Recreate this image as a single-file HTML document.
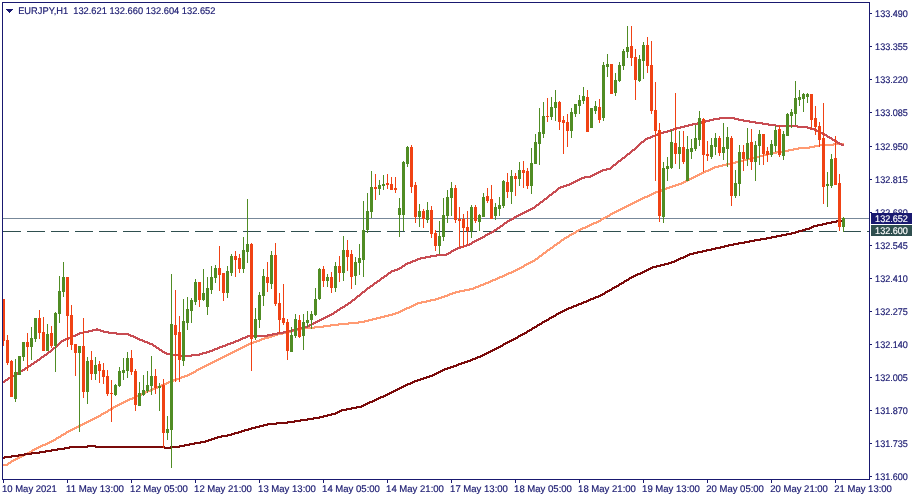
<!DOCTYPE html><html><head><meta charset="utf-8"><title>EURJPY,H1</title><style>
html,body{margin:0;padding:0;background:#fff}
#c{position:relative;width:915px;height:500px;overflow:hidden;background:#fff}
</style></head><body><div id="c">
<svg width="915" height="500" viewBox="0 0 915 500" shape-rendering="crispEdges" style="position:absolute;left:0;top:0">
<rect x="2" y="2" width="868" height="1" fill="#191970"/>
<rect x="2" y="2" width="1" height="478" fill="#191970"/>
<rect x="869" y="2" width="1" height="478" fill="#191970"/>
<rect x="2" y="479" width="868" height="1" fill="#191970"/>
<rect x="3" y="218" width="866" height="1" fill="#778899"/>
<rect x="3" y="231" width="18" height="1" fill="#2f4f4f"/>
<rect x="27" y="231" width="18" height="1" fill="#2f4f4f"/>
<rect x="51" y="231" width="18" height="1" fill="#2f4f4f"/>
<rect x="75" y="231" width="18" height="1" fill="#2f4f4f"/>
<rect x="99" y="231" width="18" height="1" fill="#2f4f4f"/>
<rect x="123" y="231" width="18" height="1" fill="#2f4f4f"/>
<rect x="147" y="231" width="18" height="1" fill="#2f4f4f"/>
<rect x="171" y="231" width="18" height="1" fill="#2f4f4f"/>
<rect x="195" y="231" width="18" height="1" fill="#2f4f4f"/>
<rect x="219" y="231" width="18" height="1" fill="#2f4f4f"/>
<rect x="243" y="231" width="18" height="1" fill="#2f4f4f"/>
<rect x="267" y="231" width="18" height="1" fill="#2f4f4f"/>
<rect x="291" y="231" width="18" height="1" fill="#2f4f4f"/>
<rect x="315" y="231" width="18" height="1" fill="#2f4f4f"/>
<rect x="339" y="231" width="18" height="1" fill="#2f4f4f"/>
<rect x="363" y="231" width="18" height="1" fill="#2f4f4f"/>
<rect x="387" y="231" width="18" height="1" fill="#2f4f4f"/>
<rect x="411" y="231" width="18" height="1" fill="#2f4f4f"/>
<rect x="435" y="231" width="18" height="1" fill="#2f4f4f"/>
<rect x="459" y="231" width="18" height="1" fill="#2f4f4f"/>
<rect x="483" y="231" width="18" height="1" fill="#2f4f4f"/>
<rect x="507" y="231" width="18" height="1" fill="#2f4f4f"/>
<rect x="531" y="231" width="18" height="1" fill="#2f4f4f"/>
<rect x="555" y="231" width="18" height="1" fill="#2f4f4f"/>
<rect x="579" y="231" width="18" height="1" fill="#2f4f4f"/>
<rect x="603" y="231" width="18" height="1" fill="#2f4f4f"/>
<rect x="627" y="231" width="18" height="1" fill="#2f4f4f"/>
<rect x="651" y="231" width="18" height="1" fill="#2f4f4f"/>
<rect x="675" y="231" width="18" height="1" fill="#2f4f4f"/>
<rect x="699" y="231" width="18" height="1" fill="#2f4f4f"/>
<rect x="723" y="231" width="18" height="1" fill="#2f4f4f"/>
<rect x="747" y="231" width="18" height="1" fill="#2f4f4f"/>
<rect x="771" y="231" width="18" height="1" fill="#2f4f4f"/>
<rect x="795" y="231" width="18" height="1" fill="#2f4f4f"/>
<rect x="819" y="231" width="18" height="1" fill="#2f4f4f"/>
<rect x="843" y="231" width="18" height="1" fill="#2f4f4f"/>
<rect x="867" y="231" width="2" height="1" fill="#2f4f4f"/>
<defs><clipPath id="cp"><rect x="3" y="3" width="866" height="476"/></clipPath></defs>
<g clip-path="url(#cp)">
<path d="M2 464h5v2h-5zM7 463h1v3h-1zM8 462h1v3h-1zM9 462h1v2h-1zM10 461h1v3h-1zM11 460h1v3h-1zM12 460h1v2h-1zM13 459h1v3h-1zM14 459h1v2h-1zM15 458h1v3h-1zM16 458h1v2h-1zM17 457h1v3h-1zM18 457h1v2h-1zM19 456h1v3h-1zM20 456h1v2h-1zM21 455h1v3h-1zM22 455h1v2h-1zM23 454h1v3h-1zM24 454h1v2h-1zM25 453h1v3h-1zM26 453h1v2h-1zM27 452h1v3h-1zM28 452h1v2h-1zM29 451h1v3h-1zM30 451h1v2h-1zM31 450h1v3h-1zM32 449h1v3h-1zM33 449h1v2h-1zM34 448h1v3h-1zM35 448h1v2h-1zM36 447h1v3h-1zM37 447h1v2h-1zM38 446h1v3h-1zM39 446h1v2h-1zM40 445h1v3h-1zM41 445h1v2h-1zM42 444h1v3h-1zM43 444h2v2h-2zM45 443h1v3h-1zM46 443h1v2h-1zM47 442h1v3h-1zM48 442h1v2h-1zM49 441h1v3h-1zM50 441h1v2h-1zM51 440h1v3h-1zM52 440h1v2h-1zM53 439h1v3h-1zM54 439h1v2h-1zM55 438h1v3h-1zM56 437h1v3h-1zM57 437h1v2h-1zM58 436h1v3h-1zM59 436h1v2h-1zM60 435h1v3h-1zM61 434h1v3h-1zM62 434h1v2h-1zM63 433h1v3h-1zM64 433h1v2h-1zM65 432h1v3h-1zM66 431h1v3h-1zM67 431h1v2h-1zM68 430h1v3h-1zM69 430h1v2h-1zM70 429h1v3h-1zM71 429h1v2h-1zM72 428h1v3h-1zM73 428h1v2h-1zM74 427h1v3h-1zM75 427h1v2h-1zM76 426h1v3h-1zM77 426h1v2h-1zM78 425h1v3h-1zM79 425h1v2h-1zM80 424h1v3h-1zM81 424h1v2h-1zM82 423h1v3h-1zM83 423h1v2h-1zM84 422h1v3h-1zM85 422h1v2h-1zM86 421h1v3h-1zM87 421h1v2h-1zM88 420h1v3h-1zM89 420h1v2h-1zM90 419h1v3h-1zM91 419h1v2h-1zM92 418h1v3h-1zM93 418h1v2h-1zM94 417h1v3h-1zM95 417h1v2h-1zM96 416h1v3h-1zM97 416h1v2h-1zM98 415h1v3h-1zM99 415h1v2h-1zM100 414h1v3h-1zM101 413h1v3h-1zM102 413h1v2h-1zM103 412h1v3h-1zM104 412h1v2h-1zM105 411h1v3h-1zM106 411h1v2h-1zM107 410h1v3h-1zM108 409h1v3h-1zM109 409h1v2h-1zM110 408h1v3h-1zM111 408h1v2h-1zM112 407h1v3h-1zM113 406h1v3h-1zM114 406h1v2h-1zM115 405h1v3h-1zM116 405h1v2h-1zM117 404h1v3h-1zM118 404h1v2h-1zM119 403h1v3h-1zM120 403h1v2h-1zM121 402h1v3h-1zM122 402h1v2h-1zM123 401h1v3h-1zM124 401h1v2h-1zM125 400h1v3h-1zM126 400h1v2h-1zM127 399h1v3h-1zM128 399h1v2h-1zM129 398h1v3h-1zM130 398h2v2h-2zM132 397h1v3h-1zM133 397h1v2h-1zM134 396h1v3h-1zM135 396h1v2h-1zM136 395h1v3h-1zM137 395h1v2h-1zM138 394h1v3h-1zM139 394h2v2h-2zM141 393h1v3h-1zM142 393h1v2h-1zM143 392h1v3h-1zM144 392h1v2h-1zM145 391h1v3h-1zM146 391h1v2h-1zM147 390h1v3h-1zM148 390h2v2h-2zM150 389h1v3h-1zM151 389h1v2h-1zM152 388h1v3h-1zM153 388h1v2h-1zM154 387h1v3h-1zM155 387h2v2h-2zM157 386h1v3h-1zM158 386h1v2h-1zM159 385h1v3h-1zM160 385h1v2h-1zM161 384h1v3h-1zM162 384h2v2h-2zM164 383h1v3h-1zM165 383h1v2h-1zM166 382h1v3h-1zM167 382h1v2h-1zM168 381h1v3h-1zM169 381h2v2h-2zM171 380h1v3h-1zM172 380h1v2h-1zM173 379h1v3h-1zM174 379h2v2h-2zM176 378h1v3h-1zM177 378h2v2h-2zM179 377h1v3h-1zM180 377h1v2h-1zM181 376h1v3h-1zM182 376h2v2h-2zM184 375h1v3h-1zM185 375h2v2h-2zM187 374h1v3h-1zM188 374h1v2h-1zM189 373h1v3h-1zM190 373h1v2h-1zM191 372h1v3h-1zM192 372h1v2h-1zM193 371h1v3h-1zM194 371h1v2h-1zM195 370h1v3h-1zM196 369h1v3h-1zM197 369h1v2h-1zM198 368h1v3h-1zM199 368h1v2h-1zM200 367h1v3h-1zM201 367h1v2h-1zM202 366h1v3h-1zM203 366h1v2h-1zM204 365h1v3h-1zM205 365h1v2h-1zM206 364h1v3h-1zM207 364h1v2h-1zM208 363h1v3h-1zM209 363h1v2h-1zM210 362h1v3h-1zM211 362h1v2h-1zM212 361h1v3h-1zM213 361h1v2h-1zM214 360h1v3h-1zM215 360h1v2h-1zM216 359h1v3h-1zM217 359h1v2h-1zM218 358h1v3h-1zM219 358h1v2h-1zM220 357h1v3h-1zM221 357h1v2h-1zM222 356h1v3h-1zM223 356h1v2h-1zM224 355h1v3h-1zM225 355h1v2h-1zM226 354h1v3h-1zM227 354h1v2h-1zM228 353h1v3h-1zM229 353h1v2h-1zM230 352h1v3h-1zM231 352h1v2h-1zM232 351h1v3h-1zM233 351h1v2h-1zM234 350h1v3h-1zM235 350h1v2h-1zM236 349h1v3h-1zM237 349h1v2h-1zM238 348h1v3h-1zM239 348h1v2h-1zM240 347h1v3h-1zM241 347h1v2h-1zM242 346h1v3h-1zM243 346h1v2h-1zM244 345h1v3h-1zM245 345h1v2h-1zM246 344h1v3h-1zM247 344h1v2h-1zM248 343h1v3h-1zM249 343h1v2h-1zM250 342h1v3h-1zM251 342h2v2h-2zM253 341h1v3h-1zM254 341h2v2h-2zM256 340h1v3h-1zM257 340h2v2h-2zM259 339h1v3h-1zM260 339h1v2h-1zM261 338h1v3h-1zM262 338h2v2h-2zM264 337h1v3h-1zM265 337h3v2h-3zM268 336h1v3h-1zM269 336h2v2h-2zM271 335h1v3h-1zM272 335h2v2h-2zM274 334h1v3h-1zM275 334h2v2h-2zM277 333h1v3h-1zM278 333h4v2h-4zM282 332h1v3h-1zM283 332h3v2h-3zM286 331h1v3h-1zM287 331h4v2h-4zM291 330h1v3h-1zM292 330h2v2h-2zM294 329h1v3h-1zM295 329h2v2h-2zM297 328h1v3h-1zM298 328h6v2h-6zM304 327h1v3h-1zM305 327h9v2h-9zM314 326h1v3h-1zM315 326h8v2h-8zM323 325h1v3h-1zM324 325h6v2h-6zM330 324h1v3h-1zM331 324h7v2h-7zM338 323h1v3h-1zM339 323h9v2h-9zM348 322h1v3h-1zM349 322h9v2h-9zM358 321h1v3h-1zM359 321h5v2h-5zM364 320h1v3h-1zM365 320h3v2h-3zM368 319h1v3h-1zM369 319h3v2h-3zM372 318h1v3h-1zM373 318h3v2h-3zM376 317h1v3h-1zM377 317h3v2h-3zM380 316h1v3h-1zM381 316h3v2h-3zM384 315h1v3h-1zM385 315h3v2h-3zM388 314h1v3h-1zM389 314h3v2h-3zM392 313h1v3h-1zM393 313h2v2h-2zM395 312h1v3h-1zM396 312h2v2h-2zM398 311h1v3h-1zM399 311h1v2h-1zM400 310h1v3h-1zM401 310h1v2h-1zM402 309h1v3h-1zM403 309h1v2h-1zM404 308h1v3h-1zM405 308h1v2h-1zM406 307h1v3h-1zM407 307h2v2h-2zM409 306h1v3h-1zM410 306h1v2h-1zM411 305h1v3h-1zM412 305h1v2h-1zM413 304h1v3h-1zM414 304h1v2h-1zM415 303h1v3h-1zM416 303h1v2h-1zM417 302h1v3h-1zM418 302h3v2h-3zM421 301h1v3h-1zM422 301h4v2h-4zM426 300h1v3h-1zM427 300h3v2h-3zM430 299h1v3h-1zM431 299h4v2h-4zM435 298h1v3h-1zM436 298h2v2h-2zM438 297h1v3h-1zM439 297h2v2h-2zM441 296h1v3h-1zM442 296h2v2h-2zM444 295h1v3h-1zM445 295h2v2h-2zM447 294h1v3h-1zM448 294h1v2h-1zM449 293h1v3h-1zM450 293h2v2h-2zM452 292h1v3h-1zM453 292h2v2h-2zM455 291h1v3h-1zM456 291h3v2h-3zM459 290h1v3h-1zM460 290h4v2h-4zM464 289h1v3h-1zM465 289h4v2h-4zM469 288h1v3h-1zM470 288h3v2h-3zM473 287h1v3h-1zM474 287h1v2h-1zM475 286h1v3h-1zM476 286h2v2h-2zM478 285h1v3h-1zM479 285h1v2h-1zM480 284h1v3h-1zM481 284h2v2h-2zM483 283h1v3h-1zM484 283h1v2h-1zM485 282h1v3h-1zM486 282h2v2h-2zM488 281h1v3h-1zM489 281h1v2h-1zM490 280h1v3h-1zM491 280h1v2h-1zM492 279h1v3h-1zM493 279h2v2h-2zM495 278h1v3h-1zM496 278h1v2h-1zM497 277h1v3h-1zM498 277h1v2h-1zM499 276h1v3h-1zM500 276h2v2h-2zM502 275h1v3h-1zM503 275h1v2h-1zM504 274h1v3h-1zM505 274h1v2h-1zM506 273h1v3h-1zM507 273h1v2h-1zM508 272h1v3h-1zM509 272h2v2h-2zM511 271h1v3h-1zM512 271h1v2h-1zM513 270h1v3h-1zM514 270h1v2h-1zM515 269h1v3h-1zM516 269h1v2h-1zM517 268h1v3h-1zM518 268h1v2h-1zM519 267h1v3h-1zM520 267h1v2h-1zM521 266h1v3h-1zM522 266h1v2h-1zM523 265h1v3h-1zM524 264h1v3h-1zM525 264h1v2h-1zM526 263h1v3h-1zM527 263h1v2h-1zM528 262h1v3h-1zM529 262h1v2h-1zM530 261h1v3h-1zM531 261h1v2h-1zM532 260h1v3h-1zM533 260h1v2h-1zM534 259h1v3h-1zM535 258h1v3h-1zM536 258h1v2h-1zM537 257h1v3h-1zM538 256h1v3h-1zM539 255h1v3h-1zM540 255h1v2h-1zM541 254h1v3h-1zM542 253h1v3h-1zM543 252h1v3h-1zM544 252h1v2h-1zM545 251h1v3h-1zM546 250h1v3h-1zM547 249h1v3h-1zM548 249h1v2h-1zM549 248h1v3h-1zM550 247h1v3h-1zM551 247h1v2h-1zM552 246h1v3h-1zM553 245h1v3h-1zM554 244h1v3h-1zM555 244h1v2h-1zM556 243h1v3h-1zM557 242h1v3h-1zM558 242h1v2h-1zM559 241h1v3h-1zM560 240h1v3h-1zM561 239h1v3h-1zM562 239h1v2h-1zM563 238h1v3h-1zM564 237h1v3h-1zM565 237h1v2h-1zM566 236h1v3h-1zM567 236h1v2h-1zM568 235h1v3h-1zM569 234h1v3h-1zM570 234h1v2h-1zM571 233h1v3h-1zM572 233h1v2h-1zM573 232h1v3h-1zM574 232h1v2h-1zM575 231h1v3h-1zM576 230h1v3h-1zM577 230h1v2h-1zM578 229h1v3h-1zM579 229h1v2h-1zM580 228h1v3h-1zM581 228h1v2h-1zM582 227h1v3h-1zM583 227h2v2h-2zM585 226h1v3h-1zM586 226h1v2h-1zM587 225h1v3h-1zM588 225h1v2h-1zM589 224h1v3h-1zM590 224h1v2h-1zM591 223h1v3h-1zM592 223h1v2h-1zM593 222h1v3h-1zM594 222h2v2h-2zM596 221h1v3h-1zM597 221h1v2h-1zM598 220h1v3h-1zM599 220h1v2h-1zM600 219h1v3h-1zM601 218h1v3h-1zM602 218h1v2h-1zM603 217h1v3h-1zM604 217h1v2h-1zM605 216h1v3h-1zM606 216h1v2h-1zM607 215h1v3h-1zM608 215h1v2h-1zM609 214h1v3h-1zM610 213h1v3h-1zM611 213h1v2h-1zM612 212h1v3h-1zM613 212h1v2h-1zM614 211h1v3h-1zM615 211h1v2h-1zM616 210h1v3h-1zM617 210h1v2h-1zM618 209h1v3h-1zM619 209h1v2h-1zM620 208h1v3h-1zM621 208h1v2h-1zM622 207h1v3h-1zM623 207h1v2h-1zM624 206h1v3h-1zM625 206h1v2h-1zM626 205h1v3h-1zM627 205h1v2h-1zM628 204h1v3h-1zM629 204h1v2h-1zM630 203h1v3h-1zM631 203h1v2h-1zM632 202h1v3h-1zM633 202h1v2h-1zM634 201h1v3h-1zM635 201h1v2h-1zM636 200h1v3h-1zM637 200h1v2h-1zM638 199h1v3h-1zM639 199h1v2h-1zM640 198h1v3h-1zM641 198h1v2h-1zM642 197h1v3h-1zM643 197h1v2h-1zM644 196h1v3h-1zM645 196h2v2h-2zM647 195h1v3h-1zM648 195h1v2h-1zM649 194h1v3h-1zM650 194h1v2h-1zM651 193h1v3h-1zM652 193h1v2h-1zM653 192h1v3h-1zM654 192h1v2h-1zM655 191h1v3h-1zM656 191h2v2h-2zM658 190h1v3h-1zM659 190h2v2h-2zM661 189h1v3h-1zM662 189h1v2h-1zM663 188h1v3h-1zM664 188h2v2h-2zM666 187h1v3h-1zM667 187h2v2h-2zM669 186h1v3h-1zM670 186h2v2h-2zM672 185h1v3h-1zM673 185h2v2h-2zM675 184h1v3h-1zM676 184h2v2h-2zM678 183h1v3h-1zM679 183h2v2h-2zM681 182h1v3h-1zM682 182h1v2h-1zM683 181h1v3h-1zM684 181h1v2h-1zM685 180h1v3h-1zM686 180h1v2h-1zM687 179h1v3h-1zM688 179h1v2h-1zM689 178h1v3h-1zM690 178h1v2h-1zM691 177h1v3h-1zM692 177h1v2h-1zM693 176h1v3h-1zM694 176h1v2h-1zM695 175h1v3h-1zM696 175h1v2h-1zM697 174h1v3h-1zM698 174h1v2h-1zM699 173h1v3h-1zM700 173h1v2h-1zM701 172h1v3h-1zM702 172h1v2h-1zM703 171h1v3h-1zM704 171h1v2h-1zM705 170h1v3h-1zM706 170h2v2h-2zM708 169h1v3h-1zM709 169h1v2h-1zM710 168h1v3h-1zM711 168h1v2h-1zM712 167h1v3h-1zM713 167h1v2h-1zM714 166h1v3h-1zM715 166h3v2h-3zM718 165h1v3h-1zM719 165h3v2h-3zM722 164h1v3h-1zM723 164h3v2h-3zM726 163h1v3h-1zM727 163h4v2h-4zM731 162h1v3h-1zM732 162h3v2h-3zM735 161h1v3h-1zM736 161h3v2h-3zM739 160h1v3h-1zM740 160h3v2h-3zM743 159h1v3h-1zM744 159h3v2h-3zM747 158h1v3h-1zM748 158h3v2h-3zM751 157h1v3h-1zM752 157h3v2h-3zM755 156h1v3h-1zM756 156h3v2h-3zM759 155h1v3h-1zM760 155h3v2h-3zM763 154h1v3h-1zM764 154h3v2h-3zM767 153h1v3h-1zM768 153h3v2h-3zM771 152h1v3h-1zM772 152h4v2h-4zM776 151h1v3h-1zM777 151h5v2h-5zM782 150h1v3h-1zM783 150h5v2h-5zM788 149h1v3h-1zM789 149h4v2h-4zM793 148h1v3h-1zM794 148h4v2h-4zM798 147h1v3h-1zM799 147h10v2h-10zM809 146h1v3h-1zM810 146h4v2h-4zM814 145h1v3h-1zM815 145h4v2h-4zM819 144h1v3h-1zM820 144h13v2h-13zM833 143h1v3h-1zM834 143h10v2h-10z" fill="#ff9a72"/>
<path d="M2 381h2v2h-2zM4 380h1v3h-1zM5 379h1v3h-1zM6 379h1v2h-1zM7 378h1v3h-1zM8 377h1v3h-1zM9 377h1v2h-1zM10 376h1v3h-1zM11 376h1v2h-1zM12 375h1v3h-1zM13 375h1v2h-1zM14 374h1v3h-1zM15 373h1v3h-1zM16 373h1v2h-1zM17 372h1v3h-1zM18 372h1v2h-1zM19 371h1v3h-1zM20 370h1v3h-1zM21 370h1v2h-1zM22 369h1v3h-1zM23 369h1v2h-1zM24 368h1v3h-1zM25 367h1v3h-1zM26 367h1v2h-1zM27 366h1v3h-1zM28 365h1v3h-1zM29 365h1v2h-1zM30 364h1v3h-1zM31 363h1v3h-1zM32 363h1v2h-1zM33 362h1v3h-1zM34 361h1v3h-1zM35 361h1v2h-1zM36 360h1v3h-1zM37 359h1v3h-1zM38 359h1v2h-1zM39 358h1v3h-1zM40 357h1v3h-1zM41 356h1v3h-1zM42 356h1v2h-1zM43 355h1v3h-1zM44 354h1v3h-1zM45 354h1v2h-1zM46 353h1v3h-1zM47 352h1v3h-1zM48 351h1v3h-1zM49 351h1v2h-1zM50 350h1v3h-1zM51 349h1v3h-1zM52 348h1v3h-1zM53 347h1v3h-1zM54 347h1v2h-1zM55 346h1v3h-1zM56 345h1v3h-1zM57 344h1v3h-1zM58 343h1v3h-1zM59 342h1v3h-1zM60 341h1v3h-1zM61 340h1v3h-1zM62 340h1v2h-1zM63 339h1v3h-1zM64 339h1v2h-1zM65 338h1v3h-1zM66 338h2v2h-2zM68 337h1v3h-1zM69 337h1v2h-1zM70 336h1v3h-1zM71 336h1v2h-1zM72 335h1v3h-1zM73 335h2v2h-2zM75 334h1v3h-1zM76 334h1v2h-1zM77 333h1v3h-1zM78 333h1v2h-1zM79 332h1v3h-1zM80 332h3v2h-3zM83 331h1v3h-1zM84 331h4v2h-4zM88 330h1v3h-1zM89 330h3v2h-3zM92 329h1v3h-1zM93 329h3v2h-3zM96 328h2v3h-2zM98 329h2v2h-2zM100 329h1v3h-1zM101 330h2v2h-2zM103 330h1v3h-1zM104 331h4v2h-4zM108 331h1v3h-1zM109 332h7v2h-7zM116 332h1v3h-1zM117 333h11v2h-11zM128 333h1v3h-1zM129 334h1v2h-1zM130 334h1v3h-1zM131 335h2v2h-2zM133 335h1v3h-1zM134 336h1v2h-1zM135 336h1v3h-1zM136 337h1v2h-1zM137 337h1v3h-1zM138 338h1v2h-1zM139 338h1v3h-1zM140 339h2v2h-2zM142 339h1v3h-1zM143 340h1v2h-1zM144 340h1v3h-1zM145 341h2v2h-2zM147 341h1v3h-1zM148 342h1v2h-1zM149 342h1v3h-1zM150 343h2v2h-2zM152 343h1v3h-1zM153 344h1v3h-1zM154 345h1v2h-1zM155 345h1v3h-1zM156 346h1v3h-1zM157 347h1v2h-1zM158 347h1v3h-1zM159 348h1v3h-1zM160 349h1v2h-1zM161 349h1v3h-1zM162 350h1v3h-1zM163 351h1v2h-1zM164 351h1v3h-1zM165 352h1v2h-1zM166 352h1v3h-1zM167 353h5v2h-5zM172 353h1v3h-1zM173 354h7v2h-7zM180 354h1v3h-1zM181 355h10v2h-10zM191 354h1v3h-1zM192 354h7v2h-7zM199 353h1v3h-1zM200 353h2v2h-2zM202 352h1v3h-1zM203 352h3v2h-3zM206 351h1v3h-1zM207 351h2v2h-2zM209 350h1v3h-1zM210 350h2v2h-2zM212 349h1v3h-1zM213 349h1v2h-1zM214 348h1v3h-1zM215 348h2v2h-2zM217 347h1v3h-1zM218 347h1v2h-1zM219 346h1v3h-1zM220 346h2v2h-2zM222 345h1v3h-1zM223 345h2v2h-2zM225 344h1v3h-1zM226 344h1v2h-1zM227 343h1v3h-1zM228 343h2v2h-2zM230 342h1v3h-1zM231 342h2v2h-2zM233 341h1v3h-1zM234 341h1v2h-1zM235 340h1v3h-1zM236 340h2v2h-2zM238 339h1v3h-1zM239 339h1v2h-1zM240 338h1v3h-1zM241 338h1v2h-1zM242 337h1v3h-1zM243 337h2v2h-2zM245 336h1v3h-1zM246 336h1v2h-1zM247 335h1v3h-1zM248 335h19v2h-19zM267 334h1v3h-1zM268 334h4v2h-4zM272 333h1v3h-1zM273 333h4v2h-4zM277 332h1v3h-1zM278 332h5v2h-5zM283 331h1v3h-1zM284 331h4v2h-4zM288 330h1v3h-1zM289 330h3v2h-3zM292 329h1v3h-1zM293 329h3v2h-3zM296 328h1v3h-1zM297 328h3v2h-3zM300 327h1v3h-1zM301 327h3v2h-3zM304 326h1v3h-1zM305 326h2v2h-2zM307 325h1v3h-1zM308 325h1v2h-1zM309 324h1v3h-1zM310 324h1v2h-1zM311 323h1v3h-1zM312 323h1v2h-1zM313 322h1v3h-1zM314 322h1v2h-1zM315 321h1v3h-1zM316 321h1v2h-1zM317 320h1v3h-1zM318 320h1v2h-1zM319 319h1v3h-1zM320 319h1v2h-1zM321 318h1v3h-1zM322 318h1v2h-1zM323 317h1v3h-1zM324 317h1v2h-1zM325 316h1v3h-1zM326 316h1v2h-1zM327 315h1v3h-1zM328 315h1v2h-1zM329 314h1v3h-1zM330 314h1v2h-1zM331 313h1v3h-1zM332 313h1v2h-1zM333 312h1v3h-1zM334 311h1v3h-1zM335 311h1v2h-1zM336 310h1v3h-1zM337 309h1v3h-1zM338 309h1v2h-1zM339 308h1v3h-1zM340 307h1v3h-1zM341 307h1v2h-1zM342 306h1v3h-1zM343 306h1v2h-1zM344 305h1v3h-1zM345 304h1v3h-1zM346 304h1v2h-1zM347 303h1v3h-1zM348 302h1v3h-1zM349 302h1v2h-1zM350 301h1v3h-1zM351 300h1v3h-1zM352 299h1v3h-1zM353 299h1v2h-1zM354 298h1v3h-1zM355 297h1v3h-1zM356 296h1v3h-1zM357 295h1v3h-1zM358 295h1v2h-1zM359 294h1v3h-1zM360 293h1v3h-1zM361 292h1v3h-1zM362 291h1v3h-1zM363 291h1v2h-1zM364 290h1v3h-1zM365 289h1v3h-1zM366 288h1v3h-1zM367 287h1v3h-1zM368 287h1v2h-1zM369 286h1v3h-1zM370 285h1v3h-1zM371 285h1v2h-1zM372 284h1v3h-1zM373 283h1v3h-1zM374 282h1v3h-1zM375 282h1v2h-1zM376 281h1v3h-1zM377 280h1v3h-1zM378 280h1v2h-1zM379 279h1v3h-1zM380 278h1v3h-1zM381 277h1v3h-1zM382 277h1v2h-1zM383 276h1v3h-1zM384 275h1v3h-1zM385 275h1v2h-1zM386 274h1v3h-1zM387 273h1v3h-1zM388 272h1v3h-1zM389 272h1v2h-1zM390 271h1v3h-1zM391 270h1v3h-1zM392 270h2v2h-2zM394 269h1v3h-1zM395 269h2v2h-2zM397 268h1v3h-1zM398 268h1v2h-1zM399 267h1v3h-1zM400 267h1v2h-1zM401 266h1v3h-1zM402 265h1v3h-1zM403 265h1v2h-1zM404 264h1v3h-1zM405 263h1v3h-1zM406 263h1v2h-1zM407 262h1v3h-1zM408 262h2v2h-2zM410 261h1v3h-1zM411 261h1v2h-1zM412 260h1v3h-1zM413 260h2v2h-2zM415 259h1v3h-1zM416 259h1v2h-1zM417 258h1v3h-1zM418 258h2v2h-2zM420 257h1v3h-1zM421 257h4v2h-4zM425 256h1v3h-1zM426 256h4v2h-4zM430 255h1v3h-1zM431 255h5v2h-5zM436 254h1v3h-1zM437 254h9v2h-9zM446 253h1v3h-1zM447 253h1v2h-1zM448 252h1v3h-1zM449 252h1v2h-1zM450 251h1v3h-1zM451 250h1v3h-1zM452 250h1v2h-1zM453 249h1v3h-1zM454 249h1v2h-1zM455 248h1v3h-1zM456 248h1v2h-1zM457 247h1v3h-1zM458 247h2v2h-2zM460 246h1v3h-1zM461 246h2v2h-2zM463 245h1v3h-1zM464 245h2v2h-2zM466 244h1v3h-1zM467 244h2v2h-2zM469 243h1v3h-1zM470 243h1v2h-1zM471 242h1v3h-1zM472 241h1v3h-1zM473 241h1v2h-1zM474 240h1v3h-1zM475 240h1v2h-1zM476 239h1v3h-1zM477 239h1v2h-1zM478 238h1v3h-1zM479 238h1v2h-1zM480 237h1v3h-1zM481 237h1v2h-1zM482 236h1v3h-1zM483 236h1v2h-1zM484 235h1v3h-1zM485 234h1v3h-1zM486 234h1v2h-1zM487 233h1v3h-1zM488 233h1v2h-1zM489 232h1v3h-1zM490 232h1v2h-1zM491 231h1v3h-1zM492 231h1v2h-1zM493 230h1v3h-1zM494 229h1v3h-1zM495 229h1v2h-1zM496 228h1v3h-1zM497 227h1v3h-1zM498 227h1v2h-1zM499 226h1v3h-1zM500 225h1v3h-1zM501 225h1v2h-1zM502 224h1v3h-1zM503 223h1v3h-1zM504 222h1v3h-1zM505 222h1v2h-1zM506 221h1v3h-1zM507 220h1v3h-1zM508 220h1v2h-1zM509 219h1v3h-1zM510 219h1v2h-1zM511 218h1v3h-1zM512 218h1v2h-1zM513 217h1v3h-1zM514 216h1v3h-1zM515 216h1v2h-1zM516 215h1v3h-1zM517 215h1v2h-1zM518 214h1v3h-1zM519 214h1v2h-1zM520 213h1v3h-1zM521 213h1v2h-1zM522 212h1v3h-1zM523 212h1v2h-1zM524 211h1v3h-1zM525 211h1v2h-1zM526 210h1v3h-1zM527 210h1v2h-1zM528 209h1v3h-1zM529 209h1v2h-1zM530 208h1v3h-1zM531 208h1v2h-1zM532 207h1v3h-1zM533 207h1v2h-1zM534 206h1v3h-1zM535 205h1v3h-1zM536 204h1v3h-1zM537 204h1v2h-1zM538 203h1v3h-1zM539 202h1v3h-1zM540 201h1v3h-1zM541 201h1v2h-1zM542 200h1v3h-1zM543 199h1v3h-1zM544 198h1v3h-1zM545 198h1v2h-1zM546 197h1v3h-1zM547 196h1v3h-1zM548 195h1v3h-1zM549 194h1v3h-1zM550 194h1v2h-1zM551 193h1v3h-1zM552 192h1v3h-1zM553 191h1v3h-1zM554 191h1v2h-1zM555 190h1v3h-1zM556 189h1v3h-1zM557 188h1v3h-1zM558 187h1v3h-1zM559 187h1v2h-1zM560 186h1v3h-1zM561 186h2v2h-2zM563 185h1v3h-1zM564 185h2v2h-2zM566 184h1v3h-1zM567 184h2v2h-2zM569 183h1v3h-1zM570 183h1v2h-1zM571 182h1v3h-1zM572 182h1v2h-1zM573 181h1v3h-1zM574 181h1v2h-1zM575 180h1v3h-1zM576 180h1v2h-1zM577 179h1v3h-1zM578 179h1v2h-1zM579 178h1v3h-1zM580 178h1v2h-1zM581 177h1v3h-1zM582 177h2v2h-2zM584 176h1v3h-1zM585 176h5v2h-5zM590 175h1v3h-1zM591 175h1v2h-1zM592 174h1v3h-1zM593 174h1v2h-1zM594 173h1v3h-1zM595 173h1v2h-1zM596 172h1v3h-1zM597 172h1v2h-1zM598 171h1v3h-1zM599 171h1v2h-1zM600 170h1v3h-1zM601 170h1v2h-1zM602 169h1v3h-1zM603 169h3v2h-3zM606 168h1v3h-1zM607 168h3v2h-3zM610 167h1v3h-1zM611 166h1v3h-1zM612 165h1v3h-1zM613 164h1v3h-1zM614 164h1v2h-1zM615 163h1v3h-1zM616 162h1v3h-1zM617 161h1v3h-1zM618 160h1v3h-1zM619 160h1v2h-1zM620 159h1v3h-1zM621 158h1v3h-1zM622 157h1v3h-1zM623 157h1v2h-1zM624 156h1v3h-1zM625 155h1v3h-1zM626 154h1v3h-1zM627 153h1v3h-1zM628 153h1v2h-1zM629 152h1v3h-1zM630 151h1v3h-1zM631 150h1v3h-1zM632 149h1v3h-1zM633 149h1v2h-1zM634 148h1v3h-1zM635 147h1v3h-1zM636 146h1v3h-1zM637 145h1v3h-1zM638 144h1v3h-1zM639 143h1v3h-1zM640 142h1v3h-1zM641 141h1v3h-1zM642 141h1v2h-1zM643 140h1v3h-1zM644 139h1v3h-1zM645 138h1v3h-1zM646 138h1v2h-1zM647 137h1v3h-1zM648 137h2v2h-2zM650 136h1v3h-1zM651 136h1v2h-1zM652 135h1v3h-1zM653 135h2v2h-2zM655 134h1v3h-1zM656 134h1v2h-1zM657 133h1v3h-1zM658 133h2v2h-2zM660 132h1v3h-1zM661 132h2v2h-2zM663 131h1v3h-1zM664 131h3v2h-3zM667 130h1v3h-1zM668 130h2v2h-2zM670 129h1v3h-1zM671 129h2v2h-2zM673 128h1v3h-1zM674 128h2v2h-2zM676 127h1v3h-1zM677 127h3v2h-3zM680 126h1v3h-1zM681 126h3v2h-3zM684 125h1v3h-1zM685 125h3v2h-3zM688 124h1v3h-1zM689 124h3v2h-3zM692 123h1v3h-1zM693 123h4v2h-4zM697 122h1v3h-1zM698 122h3v2h-3zM701 121h1v3h-1zM702 121h3v2h-3zM705 120h1v3h-1zM706 120h3v2h-3zM709 119h1v3h-1zM710 119h3v2h-3zM713 118h1v3h-1zM714 118h5v2h-5zM719 117h1v3h-1zM720 117h14v2h-14zM734 117h1v3h-1zM735 118h3v2h-3zM738 118h1v3h-1zM739 119h4v2h-4zM743 119h1v3h-1zM744 120h5v2h-5zM749 120h1v3h-1zM750 121h5v2h-5zM755 121h1v3h-1zM756 122h6v2h-6zM762 122h1v3h-1zM763 123h5v2h-5zM768 123h1v3h-1zM769 124h6v2h-6zM775 124h1v3h-1zM776 125h21v2h-21zM797 125h1v3h-1zM798 126h9v2h-9zM807 126h1v3h-1zM808 127h2v2h-2zM810 127h1v3h-1zM811 128h3v2h-3zM814 128h1v3h-1zM815 129h1v2h-1zM816 129h1v3h-1zM817 130h1v2h-1zM818 130h1v3h-1zM819 131h1v2h-1zM820 131h1v3h-1zM821 132h1v2h-1zM822 132h1v3h-1zM823 133h1v2h-1zM824 133h1v3h-1zM825 134h1v2h-1zM826 134h1v3h-1zM827 135h1v3h-1zM828 136h1v2h-1zM829 136h1v3h-1zM830 137h1v2h-1zM831 137h1v3h-1zM832 138h1v3h-1zM833 139h1v2h-1zM834 139h1v3h-1zM835 140h1v2h-1zM836 140h1v3h-1zM837 141h1v3h-1zM838 142h1v2h-1zM839 142h1v3h-1zM840 143h1v2h-1zM841 143h1v3h-1zM842 144h2v2h-2z" fill="#c84c52"/>
<path d="M2 457h2v2h-2zM4 456h1v3h-1zM5 456h6v2h-6zM11 455h1v3h-1zM12 455h6v2h-6zM18 454h1v3h-1zM19 454h5v2h-5zM24 453h1v3h-1zM25 453h6v2h-6zM31 452h1v3h-1zM32 452h7v2h-7zM39 451h1v3h-1zM40 451h5v2h-5zM45 450h1v3h-1zM46 450h5v2h-5zM51 449h1v3h-1zM52 449h5v2h-5zM57 448h1v3h-1zM58 448h6v2h-6zM64 447h1v3h-1zM65 447h4v2h-4zM69 446h1v3h-1zM70 446h17v2h-17zM87 445h1v3h-1zM88 445h7v2h-7zM95 445h1v3h-1zM96 446h68v2h-68zM164 446h1v3h-1zM165 447h5v2h-5zM170 446h1v3h-1zM171 446h8v2h-8zM179 445h1v3h-1zM180 445h4v2h-4zM184 444h1v3h-1zM185 444h4v2h-4zM189 443h1v3h-1zM190 443h4v2h-4zM194 442h1v3h-1zM195 442h5v2h-5zM200 441h1v3h-1zM201 441h4v2h-4zM205 440h1v3h-1zM206 440h2v2h-2zM208 439h1v3h-1zM209 439h2v2h-2zM211 438h1v3h-1zM212 438h2v2h-2zM214 437h1v3h-1zM215 437h2v2h-2zM217 436h1v3h-1zM218 436h3v2h-3zM221 435h1v3h-1zM222 435h5v2h-5zM227 434h1v3h-1zM228 434h3v2h-3zM231 433h1v3h-1zM232 433h2v2h-2zM234 432h1v3h-1zM235 432h3v2h-3zM238 431h1v3h-1zM239 431h2v2h-2zM241 430h1v3h-1zM242 430h2v2h-2zM244 429h1v3h-1zM245 429h3v2h-3zM248 428h1v3h-1zM249 428h2v2h-2zM251 427h1v3h-1zM252 427h3v2h-3zM255 426h1v3h-1zM256 426h3v2h-3zM259 425h1v3h-1zM260 425h3v2h-3zM263 424h1v3h-1zM264 424h3v2h-3zM267 423h1v3h-1zM268 423h8v2h-8zM276 422h1v3h-1zM277 422h10v2h-10zM287 421h1v3h-1zM288 421h6v2h-6zM294 420h1v3h-1zM295 420h5v2h-5zM300 419h1v3h-1zM301 419h6v2h-6zM307 418h1v3h-1zM308 418h5v2h-5zM313 417h1v3h-1zM314 417h5v2h-5zM319 416h1v3h-1zM320 416h3v2h-3zM323 415h1v3h-1zM324 415h3v2h-3zM327 414h1v3h-1zM328 414h3v2h-3zM331 413h1v3h-1zM332 413h3v2h-3zM335 412h1v3h-1zM336 412h1v2h-1zM337 411h1v3h-1zM338 411h1v2h-1zM339 410h1v3h-1zM340 410h1v2h-1zM341 409h1v3h-1zM342 409h4v2h-4zM346 408h1v3h-1zM347 408h4v2h-4zM351 407h1v3h-1zM352 407h4v2h-4zM356 406h1v3h-1zM357 406h4v2h-4zM361 405h1v3h-1zM362 405h1v2h-1zM363 404h1v3h-1zM364 404h1v2h-1zM365 403h1v3h-1zM366 403h1v2h-1zM367 402h1v3h-1zM368 402h1v2h-1zM369 401h1v3h-1zM370 401h2v2h-2zM372 400h1v3h-1zM373 400h1v2h-1zM374 399h1v3h-1zM375 399h1v2h-1zM376 398h1v3h-1zM377 398h1v2h-1zM378 397h1v3h-1zM379 397h1v2h-1zM380 396h1v3h-1zM381 396h2v2h-2zM383 395h1v3h-1zM384 395h1v2h-1zM385 394h1v3h-1zM386 394h1v2h-1zM387 393h1v3h-1zM388 393h1v2h-1zM389 392h1v3h-1zM390 392h1v2h-1zM391 391h1v3h-1zM392 391h1v2h-1zM393 390h1v3h-1zM394 390h1v2h-1zM395 389h1v3h-1zM396 389h1v2h-1zM397 388h1v3h-1zM398 388h1v2h-1zM399 387h1v3h-1zM400 387h1v2h-1zM401 386h1v3h-1zM402 386h1v2h-1zM403 385h1v3h-1zM404 385h1v2h-1zM405 384h1v3h-1zM406 384h1v2h-1zM407 383h1v3h-1zM408 383h2v2h-2zM410 382h1v3h-1zM411 382h1v2h-1zM412 381h1v3h-1zM413 381h1v2h-1zM414 380h1v3h-1zM415 380h2v2h-2zM417 379h1v3h-1zM418 379h2v2h-2zM420 378h1v3h-1zM421 378h2v2h-2zM423 377h1v3h-1zM424 377h2v2h-2zM426 376h1v3h-1zM427 376h2v2h-2zM429 375h1v3h-1zM430 375h2v2h-2zM432 374h1v3h-1zM433 374h1v2h-1zM434 373h1v3h-1zM435 373h1v2h-1zM436 372h1v3h-1zM437 372h1v2h-1zM438 371h1v3h-1zM439 371h1v2h-1zM440 370h1v3h-1zM441 370h1v2h-1zM442 369h1v3h-1zM443 369h1v2h-1zM444 368h1v3h-1zM445 368h2v2h-2zM447 367h1v3h-1zM448 367h2v2h-2zM450 366h1v3h-1zM451 366h2v2h-2zM453 365h1v3h-1zM454 365h2v2h-2zM456 364h1v3h-1zM457 364h1v2h-1zM458 363h1v3h-1zM459 363h2v2h-2zM461 362h1v3h-1zM462 362h2v2h-2zM464 361h1v3h-1zM465 361h2v2h-2zM467 360h1v3h-1zM468 360h2v2h-2zM470 359h1v3h-1zM471 359h1v2h-1zM472 358h1v3h-1zM473 358h2v2h-2zM475 357h1v3h-1zM476 357h1v2h-1zM477 356h1v3h-1zM478 356h2v2h-2zM480 355h1v3h-1zM481 355h1v2h-1zM482 354h1v3h-1zM483 354h1v2h-1zM484 353h1v3h-1zM485 353h1v2h-1zM486 352h1v3h-1zM487 352h1v2h-1zM488 351h1v3h-1zM489 351h1v2h-1zM490 350h1v3h-1zM491 350h1v2h-1zM492 349h1v3h-1zM493 349h1v2h-1zM494 348h1v3h-1zM495 348h1v2h-1zM496 347h1v3h-1zM497 347h1v2h-1zM498 346h1v3h-1zM499 346h1v2h-1zM500 345h1v3h-1zM501 345h1v2h-1zM502 344h1v3h-1zM503 343h1v3h-1zM504 343h1v2h-1zM505 342h1v3h-1zM506 342h1v2h-1zM507 341h1v3h-1zM508 341h1v2h-1zM509 340h1v3h-1zM510 340h1v2h-1zM511 339h1v3h-1zM512 339h1v2h-1zM513 338h1v3h-1zM514 338h1v2h-1zM515 337h1v3h-1zM516 337h1v2h-1zM517 336h1v3h-1zM518 335h1v3h-1zM519 335h1v2h-1zM520 334h1v3h-1zM521 334h1v2h-1zM522 333h1v3h-1zM523 333h1v2h-1zM524 332h1v3h-1zM525 332h1v2h-1zM526 331h1v3h-1zM527 330h1v3h-1zM528 330h1v2h-1zM529 329h1v3h-1zM530 329h1v2h-1zM531 328h1v3h-1zM532 327h1v3h-1zM533 327h1v2h-1zM534 326h1v3h-1zM535 326h1v2h-1zM536 325h1v3h-1zM537 324h1v3h-1zM538 324h1v2h-1zM539 323h1v3h-1zM540 323h1v2h-1zM541 322h1v3h-1zM542 321h1v3h-1zM543 321h1v2h-1zM544 320h1v3h-1zM545 320h1v2h-1zM546 319h1v3h-1zM547 319h1v2h-1zM548 318h1v3h-1zM549 317h1v3h-1zM550 317h1v2h-1zM551 316h1v3h-1zM552 316h1v2h-1zM553 315h1v3h-1zM554 315h1v2h-1zM555 314h1v3h-1zM556 313h1v3h-1zM557 313h1v2h-1zM558 312h1v3h-1zM559 312h1v2h-1zM560 311h1v3h-1zM561 311h1v2h-1zM562 310h1v3h-1zM563 310h1v2h-1zM564 309h1v3h-1zM565 309h1v2h-1zM566 308h1v3h-1zM567 308h1v2h-1zM568 307h1v3h-1zM569 307h2v2h-2zM571 306h1v3h-1zM572 306h1v2h-1zM573 305h1v3h-1zM574 305h2v2h-2zM576 304h1v3h-1zM577 304h1v2h-1zM578 303h1v3h-1zM579 303h2v2h-2zM581 302h1v3h-1zM582 302h1v2h-1zM583 301h1v3h-1zM584 301h2v2h-2zM586 300h1v3h-1zM587 300h1v2h-1zM588 299h1v3h-1zM589 299h1v2h-1zM590 298h1v3h-1zM591 298h2v2h-2zM593 297h1v3h-1zM594 297h1v2h-1zM595 296h1v3h-1zM596 296h2v2h-2zM598 295h1v3h-1zM599 295h1v2h-1zM600 294h1v3h-1zM601 294h1v2h-1zM602 293h1v3h-1zM603 293h1v2h-1zM604 292h1v3h-1zM605 291h1v3h-1zM606 291h1v2h-1zM607 290h1v3h-1zM608 290h1v2h-1zM609 289h1v3h-1zM610 289h1v2h-1zM611 288h1v3h-1zM612 287h1v3h-1zM613 287h1v2h-1zM614 286h1v3h-1zM615 286h1v2h-1zM616 285h1v3h-1zM617 285h1v2h-1zM618 284h1v3h-1zM619 283h1v3h-1zM620 283h1v2h-1zM621 282h1v3h-1zM622 282h1v2h-1zM623 281h1v3h-1zM624 280h1v3h-1zM625 280h1v2h-1zM626 279h1v3h-1zM627 279h1v2h-1zM628 278h1v3h-1zM629 277h1v3h-1zM630 277h1v2h-1zM631 276h1v3h-1zM632 276h1v2h-1zM633 275h1v3h-1zM634 275h1v2h-1zM635 274h1v3h-1zM636 274h1v2h-1zM637 273h1v3h-1zM638 273h2v2h-2zM640 272h1v3h-1zM641 272h1v2h-1zM642 271h1v3h-1zM643 271h1v2h-1zM644 270h1v3h-1zM645 270h1v2h-1zM646 269h1v3h-1zM647 269h1v2h-1zM648 268h1v3h-1zM649 268h1v2h-1zM650 267h1v3h-1zM651 267h1v2h-1zM652 266h1v3h-1zM653 266h3v2h-3zM656 265h1v3h-1zM657 265h3v2h-3zM660 264h1v3h-1zM661 264h3v2h-3zM664 263h1v3h-1zM665 263h3v2h-3zM668 262h1v3h-1zM669 262h2v2h-2zM671 261h1v3h-1zM672 261h2v2h-2zM674 260h1v3h-1zM675 260h1v2h-1zM676 259h1v3h-1zM677 259h1v2h-1zM678 258h1v3h-1zM679 258h1v2h-1zM680 257h1v3h-1zM681 257h2v2h-2zM683 256h1v3h-1zM684 256h1v2h-1zM685 255h1v3h-1zM686 255h1v2h-1zM687 254h1v3h-1zM688 254h1v2h-1zM689 253h1v3h-1zM690 253h3v2h-3zM693 252h1v3h-1zM694 252h3v2h-3zM697 251h1v3h-1zM698 251h4v2h-4zM702 250h1v3h-1zM703 250h3v2h-3zM706 249h1v3h-1zM707 249h4v2h-4zM711 248h1v3h-1zM712 248h3v2h-3zM715 247h1v3h-1zM716 247h4v2h-4zM720 246h1v3h-1zM721 246h3v2h-3zM724 245h1v3h-1zM725 245h3v2h-3zM728 244h1v3h-1zM729 244h4v2h-4zM733 243h1v3h-1zM734 243h4v2h-4zM738 242h1v3h-1zM739 242h5v2h-5zM744 241h1v3h-1zM745 241h4v2h-4zM749 240h1v3h-1zM750 240h4v2h-4zM754 239h1v3h-1zM755 239h5v2h-5zM760 238h1v3h-1zM761 238h5v2h-5zM766 237h1v3h-1zM767 237h4v2h-4zM771 236h1v3h-1zM772 236h4v2h-4zM776 235h1v3h-1zM777 235h4v2h-4zM781 234h1v3h-1zM782 234h4v2h-4zM786 233h1v3h-1zM787 233h4v2h-4zM791 232h1v3h-1zM792 232h3v2h-3zM795 231h1v3h-1zM796 231h2v2h-2zM798 230h1v3h-1zM799 230h3v2h-3zM802 229h1v3h-1zM803 229h2v2h-2zM805 228h1v3h-1zM806 228h3v2h-3zM809 227h1v3h-1zM810 227h1v2h-1zM811 226h1v3h-1zM812 226h1v2h-1zM813 225h1v3h-1zM814 225h3v2h-3zM817 224h1v3h-1zM818 224h4v2h-4zM822 223h1v3h-1zM823 223h3v2h-3zM826 222h1v3h-1zM827 222h4v2h-4zM831 221h1v3h-1zM832 221h4v2h-4zM836 220h1v3h-1zM837 220h7v2h-7z" fill="#7a0a0a"/>
<g fill="#508c24"><rect x="15" y="359" width="1" height="43"/><rect x="14" y="372" width="3" height="27"/><rect x="19" y="356" width="1" height="19"/><rect x="18" y="356" width="3" height="19"/><rect x="23" y="342" width="1" height="19"/><rect x="22" y="342" width="3" height="15"/><rect x="31" y="327" width="1" height="33"/><rect x="30" y="338" width="3" height="9"/><rect x="35" y="318" width="1" height="24"/><rect x="34" y="318" width="3" height="21"/><rect x="47" y="324" width="1" height="27"/><rect x="46" y="334" width="3" height="17"/><rect x="55" y="312" width="1" height="60"/><rect x="54" y="313" width="3" height="33"/><rect x="59" y="276" width="1" height="47"/><rect x="58" y="291" width="3" height="23"/><rect x="63" y="262" width="1" height="35"/><rect x="62" y="277" width="3" height="15"/><rect x="79" y="346" width="1" height="86"/><rect x="78" y="346" width="3" height="7"/><rect x="87" y="357" width="1" height="47"/><rect x="86" y="361" width="3" height="31"/><rect x="95" y="357" width="1" height="23"/><rect x="94" y="365" width="3" height="9"/><rect x="115" y="384" width="1" height="12"/><rect x="114" y="385" width="3" height="10"/><rect x="119" y="367" width="1" height="20"/><rect x="118" y="371" width="3" height="15"/><rect x="123" y="358" width="1" height="22"/><rect x="122" y="370" width="3" height="3"/><rect x="127" y="352" width="1" height="26"/><rect x="126" y="358" width="3" height="13"/><rect x="139" y="382" width="1" height="24"/><rect x="138" y="393" width="3" height="13"/><rect x="143" y="375" width="1" height="21"/><rect x="142" y="390" width="3" height="5"/><rect x="147" y="371" width="1" height="22"/><rect x="146" y="385" width="3" height="6"/><rect x="151" y="356" width="1" height="39"/><rect x="150" y="376" width="3" height="10"/><rect x="159" y="383" width="1" height="28"/><rect x="158" y="386" width="3" height="2"/><rect x="167" y="416" width="1" height="24"/><rect x="166" y="429" width="3" height="4"/><rect x="171" y="274" width="1" height="194"/><rect x="170" y="324" width="3" height="106"/><rect x="183" y="299" width="1" height="67"/><rect x="182" y="321" width="3" height="40"/><rect x="187" y="297" width="1" height="33"/><rect x="186" y="309" width="3" height="14"/><rect x="191" y="298" width="1" height="25"/><rect x="190" y="300" width="3" height="11"/><rect x="195" y="279" width="1" height="26"/><rect x="194" y="282" width="3" height="20"/><rect x="203" y="269" width="1" height="32"/><rect x="202" y="293" width="3" height="7"/><rect x="207" y="277" width="1" height="38"/><rect x="206" y="288" width="3" height="19"/><rect x="211" y="266" width="1" height="28"/><rect x="210" y="277" width="3" height="13"/><rect x="215" y="265" width="1" height="18"/><rect x="214" y="268" width="3" height="10"/><rect x="227" y="266" width="1" height="32"/><rect x="226" y="271" width="3" height="22"/><rect x="231" y="254" width="1" height="22"/><rect x="230" y="256" width="3" height="17"/><rect x="243" y="237" width="1" height="36"/><rect x="242" y="250" width="3" height="19"/><rect x="247" y="199" width="1" height="64"/><rect x="246" y="244" width="3" height="8"/><rect x="255" y="308" width="1" height="32"/><rect x="254" y="319" width="3" height="19"/><rect x="259" y="292" width="1" height="36"/><rect x="258" y="295" width="3" height="25"/><rect x="263" y="269" width="1" height="37"/><rect x="262" y="276" width="3" height="20"/><rect x="271" y="251" width="1" height="38"/><rect x="270" y="255" width="3" height="29"/><rect x="291" y="327" width="1" height="25"/><rect x="290" y="335" width="3" height="17"/><rect x="295" y="314" width="1" height="24"/><rect x="294" y="319" width="3" height="17"/><rect x="303" y="314" width="1" height="36"/><rect x="302" y="322" width="3" height="14"/><rect x="307" y="311" width="1" height="16"/><rect x="306" y="320" width="3" height="3"/><rect x="311" y="311" width="1" height="18"/><rect x="310" y="314" width="3" height="6"/><rect x="315" y="288" width="1" height="28"/><rect x="314" y="299" width="3" height="16"/><rect x="319" y="268" width="1" height="32"/><rect x="318" y="269" width="3" height="30"/><rect x="327" y="274" width="1" height="13"/><rect x="326" y="277" width="3" height="4"/><rect x="335" y="262" width="1" height="30"/><rect x="334" y="266" width="3" height="22"/><rect x="343" y="236" width="1" height="45"/><rect x="342" y="250" width="3" height="23"/><rect x="355" y="257" width="1" height="28"/><rect x="354" y="262" width="3" height="14"/><rect x="359" y="244" width="1" height="31"/><rect x="358" y="258" width="3" height="5"/><rect x="363" y="201" width="1" height="76"/><rect x="362" y="230" width="3" height="30"/><rect x="367" y="193" width="1" height="40"/><rect x="366" y="211" width="3" height="19"/><rect x="371" y="171" width="1" height="47"/><rect x="370" y="187" width="3" height="25"/><rect x="379" y="180" width="1" height="15"/><rect x="378" y="185" width="3" height="4"/><rect x="383" y="175" width="1" height="15"/><rect x="382" y="184" width="3" height="2"/><rect x="399" y="198" width="1" height="39"/><rect x="398" y="208" width="3" height="7"/><rect x="403" y="161" width="1" height="70"/><rect x="402" y="162" width="3" height="53"/><rect x="407" y="146" width="1" height="21"/><rect x="406" y="147" width="3" height="17"/><rect x="419" y="204" width="1" height="23"/><rect x="418" y="211" width="3" height="6"/><rect x="427" y="202" width="1" height="21"/><rect x="426" y="210" width="3" height="10"/><rect x="439" y="221" width="1" height="33"/><rect x="438" y="236" width="3" height="10"/><rect x="443" y="198" width="1" height="43"/><rect x="442" y="215" width="3" height="22"/><rect x="447" y="190" width="1" height="33"/><rect x="446" y="197" width="3" height="19"/><rect x="451" y="182" width="1" height="34"/><rect x="450" y="188" width="3" height="10"/><rect x="471" y="205" width="1" height="33"/><rect x="470" y="207" width="3" height="24"/><rect x="479" y="214" width="1" height="17"/><rect x="478" y="215" width="3" height="7"/><rect x="483" y="193" width="1" height="24"/><rect x="482" y="197" width="3" height="20"/><rect x="495" y="203" width="1" height="17"/><rect x="494" y="207" width="3" height="9"/><rect x="499" y="197" width="1" height="19"/><rect x="498" y="205" width="3" height="4"/><rect x="503" y="180" width="1" height="28"/><rect x="502" y="181" width="3" height="25"/><rect x="511" y="170" width="1" height="34"/><rect x="510" y="176" width="3" height="16"/><rect x="519" y="162" width="1" height="24"/><rect x="518" y="170" width="3" height="9"/><rect x="531" y="148" width="1" height="46"/><rect x="530" y="163" width="3" height="23"/><rect x="535" y="134" width="1" height="30"/><rect x="534" y="142" width="3" height="22"/><rect x="539" y="108" width="1" height="57"/><rect x="538" y="132" width="3" height="12"/><rect x="543" y="102" width="1" height="36"/><rect x="542" y="116" width="3" height="18"/><rect x="551" y="97" width="1" height="23"/><rect x="550" y="107" width="3" height="10"/><rect x="555" y="90" width="1" height="31"/><rect x="554" y="102" width="3" height="6"/><rect x="571" y="108" width="1" height="30"/><rect x="570" y="112" width="3" height="19"/><rect x="575" y="104" width="1" height="13"/><rect x="574" y="104" width="3" height="10"/><rect x="579" y="95" width="1" height="19"/><rect x="578" y="100" width="3" height="6"/><rect x="583" y="87" width="1" height="17"/><rect x="582" y="96" width="3" height="5"/><rect x="591" y="108" width="1" height="20"/><rect x="590" y="108" width="3" height="20"/><rect x="595" y="101" width="1" height="13"/><rect x="594" y="106" width="3" height="5"/><rect x="603" y="62" width="1" height="59"/><rect x="602" y="65" width="3" height="53"/><rect x="607" y="54" width="1" height="23"/><rect x="606" y="64" width="3" height="3"/><rect x="615" y="73" width="1" height="23"/><rect x="614" y="80" width="3" height="13"/><rect x="619" y="62" width="1" height="20"/><rect x="618" y="65" width="3" height="16"/><rect x="623" y="49" width="1" height="21"/><rect x="622" y="51" width="3" height="15"/><rect x="627" y="26" width="1" height="32"/><rect x="626" y="47" width="3" height="5"/><rect x="639" y="55" width="1" height="27"/><rect x="638" y="59" width="3" height="22"/><rect x="643" y="42" width="1" height="37"/><rect x="642" y="45" width="3" height="16"/><rect x="663" y="162" width="1" height="61"/><rect x="662" y="168" width="3" height="49"/><rect x="667" y="157" width="1" height="24"/><rect x="666" y="166" width="3" height="3"/><rect x="671" y="130" width="1" height="39"/><rect x="670" y="142" width="3" height="26"/><rect x="679" y="131" width="1" height="38"/><rect x="678" y="147" width="3" height="7"/><rect x="687" y="136" width="1" height="45"/><rect x="686" y="149" width="3" height="32"/><rect x="691" y="139" width="1" height="20"/><rect x="690" y="148" width="3" height="4"/><rect x="695" y="125" width="1" height="26"/><rect x="694" y="138" width="3" height="11"/><rect x="699" y="111" width="1" height="35"/><rect x="698" y="118" width="3" height="22"/><rect x="711" y="138" width="1" height="21"/><rect x="710" y="145" width="3" height="12"/><rect x="715" y="133" width="1" height="22"/><rect x="714" y="138" width="3" height="9"/><rect x="723" y="123" width="1" height="37"/><rect x="722" y="147" width="3" height="6"/><rect x="727" y="127" width="1" height="40"/><rect x="726" y="137" width="3" height="12"/><rect x="735" y="170" width="1" height="28"/><rect x="734" y="183" width="3" height="13"/><rect x="739" y="145" width="1" height="51"/><rect x="738" y="152" width="3" height="32"/><rect x="747" y="128" width="1" height="38"/><rect x="746" y="143" width="3" height="16"/><rect x="755" y="141" width="1" height="40"/><rect x="754" y="145" width="3" height="17"/><rect x="759" y="130" width="1" height="35"/><rect x="758" y="134" width="3" height="12"/><rect x="771" y="140" width="1" height="17"/><rect x="770" y="144" width="3" height="11"/><rect x="775" y="126" width="1" height="26"/><rect x="774" y="130" width="3" height="16"/><rect x="783" y="131" width="1" height="29"/><rect x="782" y="134" width="3" height="22"/><rect x="787" y="113" width="1" height="23"/><rect x="786" y="114" width="3" height="22"/><rect x="791" y="109" width="1" height="19"/><rect x="790" y="112" width="3" height="4"/><rect x="795" y="81" width="1" height="44"/><rect x="794" y="98" width="3" height="16"/><rect x="799" y="90" width="1" height="16"/><rect x="798" y="97" width="3" height="3"/><rect x="803" y="93" width="1" height="19"/><rect x="802" y="94" width="3" height="5"/><rect x="807" y="93" width="1" height="10"/><rect x="806" y="94" width="3" height="3"/><rect x="827" y="172" width="1" height="35"/><rect x="826" y="184" width="3" height="2"/><rect x="831" y="154" width="1" height="34"/><rect x="830" y="159" width="3" height="27"/><rect x="843" y="217" width="1" height="15"/><rect x="842" y="218" width="3" height="9"/></g>
<g fill="#f04214"><rect x="3" y="299" width="1" height="47"/><rect x="2" y="299" width="3" height="42"/><rect x="7" y="335" width="1" height="30"/><rect x="6" y="340" width="3" height="23"/><rect x="11" y="360" width="1" height="37"/><rect x="10" y="361" width="3" height="36"/><rect x="27" y="333" width="1" height="38"/><rect x="26" y="342" width="3" height="5"/><rect x="39" y="310" width="1" height="29"/><rect x="38" y="318" width="3" height="15"/><rect x="43" y="317" width="1" height="34"/><rect x="42" y="332" width="3" height="19"/><rect x="51" y="326" width="1" height="22"/><rect x="50" y="333" width="3" height="13"/><rect x="67" y="277" width="1" height="70"/><rect x="66" y="277" width="3" height="39"/><rect x="71" y="305" width="1" height="45"/><rect x="70" y="315" width="3" height="30"/><rect x="75" y="344" width="1" height="32"/><rect x="74" y="344" width="3" height="9"/><rect x="83" y="318" width="1" height="80"/><rect x="82" y="346" width="3" height="46"/><rect x="91" y="351" width="1" height="29"/><rect x="90" y="360" width="3" height="14"/><rect x="99" y="361" width="1" height="22"/><rect x="98" y="364" width="3" height="7"/><rect x="103" y="363" width="1" height="21"/><rect x="102" y="370" width="3" height="7"/><rect x="107" y="370" width="1" height="26"/><rect x="106" y="376" width="3" height="18"/><rect x="111" y="380" width="1" height="42"/><rect x="110" y="393" width="3" height="1"/><rect x="131" y="350" width="1" height="25"/><rect x="130" y="358" width="3" height="14"/><rect x="135" y="369" width="1" height="42"/><rect x="134" y="371" width="3" height="34"/><rect x="155" y="369" width="1" height="25"/><rect x="154" y="376" width="3" height="12"/><rect x="163" y="379" width="1" height="69"/><rect x="162" y="385" width="3" height="48"/><rect x="175" y="290" width="1" height="92"/><rect x="174" y="325" width="3" height="10"/><rect x="179" y="316" width="1" height="66"/><rect x="178" y="332" width="3" height="28"/><rect x="199" y="282" width="1" height="25"/><rect x="198" y="282" width="3" height="18"/><rect x="219" y="246" width="1" height="45"/><rect x="218" y="268" width="3" height="7"/><rect x="223" y="273" width="1" height="28"/><rect x="222" y="273" width="3" height="20"/><rect x="235" y="251" width="1" height="26"/><rect x="234" y="256" width="3" height="4"/><rect x="239" y="254" width="1" height="19"/><rect x="238" y="258" width="3" height="11"/><rect x="251" y="243" width="1" height="128"/><rect x="250" y="244" width="3" height="95"/><rect x="267" y="262" width="1" height="30"/><rect x="266" y="277" width="3" height="6"/><rect x="275" y="243" width="1" height="63"/><rect x="274" y="255" width="3" height="49"/><rect x="279" y="293" width="1" height="40"/><rect x="278" y="303" width="3" height="17"/><rect x="283" y="284" width="1" height="41"/><rect x="282" y="318" width="3" height="5"/><rect x="287" y="319" width="1" height="41"/><rect x="286" y="322" width="3" height="29"/><rect x="299" y="315" width="1" height="23"/><rect x="298" y="320" width="3" height="17"/><rect x="323" y="266" width="1" height="21"/><rect x="322" y="269" width="3" height="12"/><rect x="331" y="272" width="1" height="21"/><rect x="330" y="277" width="3" height="11"/><rect x="339" y="256" width="1" height="26"/><rect x="338" y="266" width="3" height="7"/><rect x="347" y="240" width="1" height="31"/><rect x="346" y="250" width="3" height="7"/><rect x="351" y="250" width="1" height="39"/><rect x="350" y="254" width="3" height="23"/><rect x="375" y="174" width="1" height="26"/><rect x="374" y="187" width="3" height="2"/><rect x="387" y="174" width="1" height="15"/><rect x="386" y="183" width="3" height="2"/><rect x="391" y="177" width="1" height="13"/><rect x="390" y="184" width="3" height="6"/><rect x="395" y="177" width="1" height="16"/><rect x="394" y="188" width="3" height="2"/><rect x="411" y="145" width="1" height="48"/><rect x="410" y="147" width="3" height="40"/><rect x="415" y="182" width="1" height="41"/><rect x="414" y="185" width="3" height="32"/><rect x="423" y="209" width="1" height="19"/><rect x="422" y="211" width="3" height="8"/><rect x="431" y="206" width="1" height="32"/><rect x="430" y="210" width="3" height="24"/><rect x="435" y="230" width="1" height="21"/><rect x="434" y="233" width="3" height="13"/><rect x="455" y="185" width="1" height="38"/><rect x="454" y="188" width="3" height="32"/><rect x="459" y="207" width="1" height="40"/><rect x="458" y="219" width="3" height="2"/><rect x="463" y="214" width="1" height="34"/><rect x="462" y="219" width="3" height="9"/><rect x="467" y="211" width="1" height="34"/><rect x="466" y="227" width="3" height="4"/><rect x="475" y="205" width="1" height="18"/><rect x="474" y="207" width="3" height="14"/><rect x="487" y="188" width="1" height="15"/><rect x="486" y="196" width="3" height="5"/><rect x="491" y="185" width="1" height="34"/><rect x="490" y="199" width="3" height="20"/><rect x="507" y="173" width="1" height="25"/><rect x="506" y="182" width="3" height="10"/><rect x="515" y="173" width="1" height="23"/><rect x="514" y="176" width="3" height="3"/><rect x="523" y="161" width="1" height="27"/><rect x="522" y="170" width="3" height="3"/><rect x="527" y="168" width="1" height="21"/><rect x="526" y="171" width="3" height="15"/><rect x="547" y="98" width="1" height="24"/><rect x="546" y="116" width="3" height="1"/><rect x="559" y="101" width="1" height="29"/><rect x="558" y="102" width="3" height="20"/><rect x="563" y="116" width="1" height="38"/><rect x="562" y="120" width="3" height="3"/><rect x="567" y="114" width="1" height="33"/><rect x="566" y="122" width="3" height="9"/><rect x="587" y="90" width="1" height="42"/><rect x="586" y="97" width="3" height="35"/><rect x="599" y="99" width="1" height="24"/><rect x="598" y="107" width="3" height="13"/><rect x="611" y="64" width="1" height="30"/><rect x="610" y="64" width="3" height="30"/><rect x="631" y="26" width="1" height="40"/><rect x="630" y="46" width="3" height="12"/><rect x="635" y="49" width="1" height="51"/><rect x="634" y="57" width="3" height="23"/><rect x="647" y="37" width="1" height="36"/><rect x="646" y="45" width="3" height="21"/><rect x="651" y="41" width="1" height="73"/><rect x="650" y="65" width="3" height="46"/><rect x="655" y="82" width="1" height="99"/><rect x="654" y="110" width="3" height="21"/><rect x="659" y="123" width="1" height="99"/><rect x="658" y="130" width="3" height="86"/><rect x="675" y="93" width="1" height="71"/><rect x="674" y="143" width="3" height="11"/><rect x="683" y="131" width="1" height="33"/><rect x="682" y="147" width="3" height="15"/><rect x="703" y="118" width="1" height="54"/><rect x="702" y="119" width="3" height="36"/><rect x="707" y="141" width="1" height="20"/><rect x="706" y="154" width="3" height="2"/><rect x="719" y="136" width="1" height="20"/><rect x="718" y="138" width="3" height="15"/><rect x="731" y="136" width="1" height="70"/><rect x="730" y="138" width="3" height="58"/><rect x="743" y="145" width="1" height="26"/><rect x="742" y="152" width="3" height="7"/><rect x="751" y="129" width="1" height="41"/><rect x="750" y="142" width="3" height="20"/><rect x="763" y="134" width="1" height="31"/><rect x="762" y="134" width="3" height="20"/><rect x="767" y="147" width="1" height="15"/><rect x="766" y="151" width="3" height="4"/><rect x="779" y="125" width="1" height="32"/><rect x="778" y="129" width="3" height="26"/><rect x="811" y="94" width="1" height="35"/><rect x="810" y="94" width="3" height="26"/><rect x="815" y="106" width="1" height="29"/><rect x="814" y="118" width="3" height="9"/><rect x="819" y="122" width="1" height="25"/><rect x="818" y="126" width="3" height="14"/><rect x="823" y="103" width="1" height="101"/><rect x="822" y="138" width="3" height="49"/><rect x="835" y="136" width="1" height="49"/><rect x="834" y="158" width="3" height="27"/><rect x="839" y="174" width="1" height="57"/><rect x="838" y="183" width="3" height="44"/></g>
</g>
<rect x="870" y="13" width="2" height="1" fill="#191970"/>
<rect x="870" y="46" width="2" height="1" fill="#191970"/>
<rect x="870" y="79" width="2" height="1" fill="#191970"/>
<rect x="870" y="112" width="2" height="1" fill="#191970"/>
<rect x="870" y="146" width="2" height="1" fill="#191970"/>
<rect x="870" y="179" width="2" height="1" fill="#191970"/>
<rect x="870" y="212" width="2" height="1" fill="#191970"/>
<rect x="870" y="245" width="2" height="1" fill="#191970"/>
<rect x="870" y="278" width="2" height="1" fill="#191970"/>
<rect x="870" y="311" width="2" height="1" fill="#191970"/>
<rect x="870" y="344" width="2" height="1" fill="#191970"/>
<rect x="870" y="377" width="2" height="1" fill="#191970"/>
<rect x="870" y="410" width="2" height="1" fill="#191970"/>
<rect x="870" y="443" width="2" height="1" fill="#191970"/>
<rect x="870" y="476" width="2" height="1" fill="#191970"/>
<rect x="3" y="480" width="1" height="3" fill="#191970"/>
<rect x="67" y="480" width="1" height="3" fill="#191970"/>
<rect x="131" y="480" width="1" height="3" fill="#191970"/>
<rect x="195" y="480" width="1" height="3" fill="#191970"/>
<rect x="259" y="480" width="1" height="3" fill="#191970"/>
<rect x="323" y="480" width="1" height="3" fill="#191970"/>
<rect x="387" y="480" width="1" height="3" fill="#191970"/>
<rect x="451" y="480" width="1" height="3" fill="#191970"/>
<rect x="515" y="480" width="1" height="3" fill="#191970"/>
<rect x="579" y="480" width="1" height="3" fill="#191970"/>
<rect x="643" y="480" width="1" height="3" fill="#191970"/>
<rect x="707" y="480" width="1" height="3" fill="#191970"/>
<rect x="771" y="480" width="1" height="3" fill="#191970"/>
<rect x="835" y="480" width="1" height="3" fill="#191970"/>
<path d="M6 9h7v1h-1v1h-1v1h-1v1h-1v-1h-1v-1h-1v-1h-1z" fill="#191970"/>
<rect x="871" y="213" width="41" height="11" fill="#191970"/>
<rect x="871" y="225" width="41" height="11" fill="#2f4f4f"/>
<g font-family="&quot;Liberation Sans&quot;, sans-serif" font-size="9.7" text-rendering="geometricPrecision" shape-rendering="auto" stroke-width="0.18">
<text x="18.18" y="13.90" textLength="197.24" lengthAdjust="spacingAndGlyphs" fill="#191970" stroke="#191970">EURJPY,H1  132.621 132.660 132.604 132.652</text>
<text x="875.11" y="16.90" textLength="32.75" lengthAdjust="spacingAndGlyphs" fill="#191970" stroke="#191970">133.490</text>
<text x="875.11" y="49.90" textLength="32.77" lengthAdjust="spacingAndGlyphs" fill="#191970" stroke="#191970">133.355</text>
<text x="875.11" y="82.90" textLength="32.75" lengthAdjust="spacingAndGlyphs" fill="#191970" stroke="#191970">133.220</text>
<text x="875.11" y="115.90" textLength="32.77" lengthAdjust="spacingAndGlyphs" fill="#191970" stroke="#191970">133.085</text>
<text x="875.11" y="149.90" textLength="32.75" lengthAdjust="spacingAndGlyphs" fill="#191970" stroke="#191970">132.950</text>
<text x="875.11" y="182.90" textLength="32.77" lengthAdjust="spacingAndGlyphs" fill="#191970" stroke="#191970">132.815</text>
<text x="875.11" y="215.90" textLength="32.77" lengthAdjust="spacingAndGlyphs" fill="#191970" stroke="#191970">132.680</text>
<text x="875.11" y="248.90" textLength="32.77" lengthAdjust="spacingAndGlyphs" fill="#191970" stroke="#191970">132.545</text>
<text x="875.11" y="281.90" textLength="32.75" lengthAdjust="spacingAndGlyphs" fill="#191970" stroke="#191970">132.410</text>
<text x="875.11" y="314.90" textLength="32.77" lengthAdjust="spacingAndGlyphs" fill="#191970" stroke="#191970">132.275</text>
<text x="875.11" y="347.90" textLength="32.75" lengthAdjust="spacingAndGlyphs" fill="#191970" stroke="#191970">132.140</text>
<text x="875.11" y="380.90" textLength="32.77" lengthAdjust="spacingAndGlyphs" fill="#191970" stroke="#191970">132.005</text>
<text x="875.11" y="413.90" textLength="32.75" lengthAdjust="spacingAndGlyphs" fill="#191970" stroke="#191970">131.870</text>
<text x="875.11" y="446.90" textLength="32.77" lengthAdjust="spacingAndGlyphs" fill="#191970" stroke="#191970">131.735</text>
<text x="875.11" y="479.90" textLength="32.75" lengthAdjust="spacingAndGlyphs" fill="#191970" stroke="#191970">131.600</text>
<text x="875.11" y="221.90" textLength="32.77" lengthAdjust="spacingAndGlyphs" fill="#fff" stroke="#fff">132.652</text>
<text x="875.11" y="234.40" textLength="32.77" lengthAdjust="spacingAndGlyphs" fill="#fff" stroke="#fff">132.600</text>
<text x="2.08" y="491.90" textLength="54.73" lengthAdjust="spacingAndGlyphs" fill="#191970" stroke="#191970">10 May 2021</text>
<text x="66.08" y="491.90" textLength="57.85" lengthAdjust="spacingAndGlyphs" fill="#191970" stroke="#191970">11 May 13:00</text>
<text x="130.08" y="491.90" textLength="57.85" lengthAdjust="spacingAndGlyphs" fill="#191970" stroke="#191970">12 May 05:00</text>
<text x="194.08" y="491.90" textLength="57.85" lengthAdjust="spacingAndGlyphs" fill="#191970" stroke="#191970">12 May 21:00</text>
<text x="258.08" y="491.90" textLength="57.85" lengthAdjust="spacingAndGlyphs" fill="#191970" stroke="#191970">13 May 13:00</text>
<text x="322.08" y="491.90" textLength="57.85" lengthAdjust="spacingAndGlyphs" fill="#191970" stroke="#191970">14 May 05:00</text>
<text x="386.08" y="491.90" textLength="57.85" lengthAdjust="spacingAndGlyphs" fill="#191970" stroke="#191970">14 May 21:00</text>
<text x="450.08" y="491.90" textLength="57.85" lengthAdjust="spacingAndGlyphs" fill="#191970" stroke="#191970">17 May 13:00</text>
<text x="514.08" y="491.90" textLength="57.85" lengthAdjust="spacingAndGlyphs" fill="#191970" stroke="#191970">18 May 05:00</text>
<text x="578.08" y="491.90" textLength="57.85" lengthAdjust="spacingAndGlyphs" fill="#191970" stroke="#191970">18 May 21:00</text>
<text x="642.08" y="491.90" textLength="57.85" lengthAdjust="spacingAndGlyphs" fill="#191970" stroke="#191970">19 May 13:00</text>
<text x="706.33" y="491.90" textLength="57.53" lengthAdjust="spacingAndGlyphs" fill="#191970" stroke="#191970">20 May 05:00</text>
<text x="770.33" y="491.90" textLength="57.53" lengthAdjust="spacingAndGlyphs" fill="#191970" stroke="#191970">20 May 21:00</text>
<text x="834.33" y="491.90" textLength="57.53" lengthAdjust="spacingAndGlyphs" fill="#191970" stroke="#191970">21 May 13:00</text>
</g>
</svg>
</div></body></html>
